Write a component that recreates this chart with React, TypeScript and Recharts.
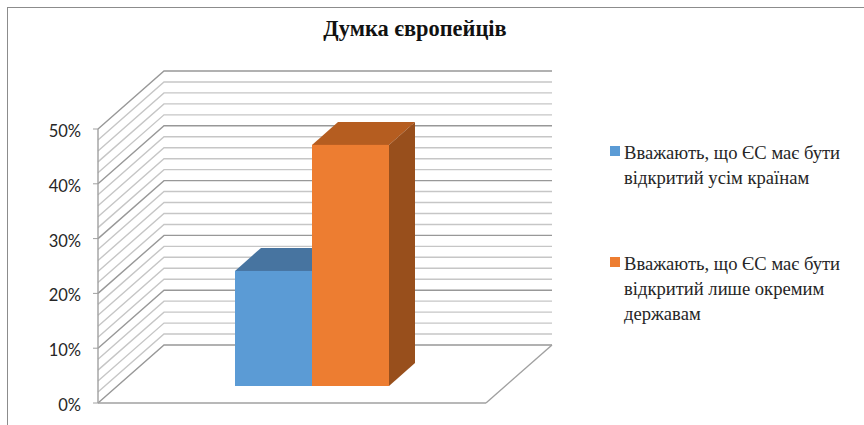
import React from 'react';
import { BarChart, Bar, XAxis, YAxis, CartesianGrid, Legend } from 'recharts';

const categories = ['Думка'];
const openToAll = [21];
const openToSome = [44];
const yTicks = [0, 10, 20, 30, 40, 50];
const gridValues = [0, 2, 4, 6, 8, 10, 12, 14, 16, 18, 20, 22, 24, 26, 28, 30, 32, 34, 36, 38, 40, 42, 44, 46, 48, 50];
const seriesNames = [
  'Вважають, що ЄС має бути відкритий усім країнам',
  'Вважають, що ЄС має бути відкритий лише окремим державам',
];
const title = 'Думка європейців';

const data = categories.map((name, i) => ({ name, openToAll: openToAll[i], openToSome: openToSome[i] }));

// depth of the 3d box
const DX = 66;
const DY = -58;
// bars stand in the middle of the floor
const BAR_DX = 26;
const BAR_DY = -23;
const BAR_OFF_X = 20;
const BAR_OFF_Y = -17;

const serif = 'Liberation Serif, Times New Roman, serif';

const GridLine = (props: any) => {
  const { x1, x2, y1, index } = props;
  const major = index % 5 === 0;
  const color = major ? '#989898' : '#c6c6c6';
  return (
    <g>
      <polyline
        points={`${x1},${y1} ${x1 + DX},${y1 + DY} ${x2 + DX},${y1 + DY}`}
        fill="none"
        stroke={color}
        strokeWidth={1.4}
      />
      {index === 0 && <line x1={x2} y1={y1} x2={x2 + DX} y2={y1 + DY} stroke="#a0a0a0" strokeWidth={1.4} />}
    </g>
  );
};

const Bar3D = (props: any) => {
  const { x, y, width, height, fill, topFill, sideFill } = props;
  const l = x + BAR_OFF_X;
  const r = l + width;
  const t = y + BAR_OFF_Y;
  const b = t + height;
  return (
    <g>
      <polygon points={`${l},${t} ${l + BAR_DX},${t + BAR_DY} ${r + BAR_DX},${t + BAR_DY} ${r},${t}`} fill={topFill} />
      <polygon points={`${r},${t} ${r + BAR_DX},${t + BAR_DY} ${r + BAR_DX},${b + BAR_DY} ${r},${b}`} fill={sideFill} />
      <rect x={l} y={t} width={width} height={height} fill={fill} />
    </g>
  );
};

const LegendBox = ({ payload }: any) => (
  <div>
    {(payload || []).map((item: any, i: number) => (
      <div
        key={item.value}
        style={{
          position: 'absolute',
          left: 0,
          top: i === 0 ? 0 : 111,
          width: 240,
          paddingLeft: 14,
          boxSizing: 'border-box',
          fontFamily: serif,
          fontSize: 18.6,
          lineHeight: '25px',
          color: '#262626',
          textAlign: 'left',
        }}
      >
        <span style={{ position: 'absolute', left: 0, top: 6, width: 10, height: 10, background: item.color }} />
        {item.value}
      </div>
    ))}
  </div>
);

const PercentTick = (props: any) => {
  const { x, y, payload } = props;
  return (
    <text x={x} y={y} dy={8} textAnchor="end" fontFamily="Lato" fontSize={16.5} fill="#262626">
      {`${payload.value}%`}
    </text>
  );
};

export default function App() {
  return (
    <div style={{ position: 'relative', width: 864, height: 425, background: '#fff', overflow: 'hidden' }}>
      <style>{'body{margin:0}'}</style>
      <div style={{ position: 'absolute', left: 7, top: 7, width: 857, height: 418, borderLeft: '1px solid #8c8c8c', borderTop: '1px solid #8c8c8c' }} />
      <div
        style={{
          position: 'absolute',
          left: 0,
          width: 830,
          top: 16,
          textAlign: 'center',
          fontFamily: serif,
          fontWeight: 'bold',
          fontSize: 22.4,
          color: '#111',
        }}
      >
        {title}
      </div>
      <BarChart
        width={864}
        height={425}
        data={data}
        margin={{ top: 129, right: 378, bottom: 20, left: 0 }}
        barSize={77}
        barGap={0}
        style={{ position: 'absolute', left: 0, top: 0 }}
      >
        <CartesianGrid vertical={false} horizontal={GridLine as any} horizontalValues={gridValues} />
        <XAxis dataKey="name" tick={false} tickLine={false} height={1} axisLine={{ stroke: '#a0a0a0', strokeWidth: 1.5 }} />
        <YAxis
          domain={[0, 50]}
          ticks={yTicks}
          interval={0}
          width={98}
          tickSize={5}
          tickMargin={12}
          axisLine={{ stroke: '#a0a0a0', strokeWidth: 1.4 }}
          tickLine={{ stroke: '#a0a0a0' }}
          tick={<PercentTick />}
        />
        <Legend
          content={<LegendBox />}
          itemSorter={null as any}
          wrapperStyle={{ position: 'absolute', left: 610, top: 140, width: 240, height: 1, bottom: 'auto' }}
        />
        <Bar
          dataKey="openToAll"
          name={seriesNames[0]}
          fill="#5b9bd5"
          isAnimationActive={false}
          shape={<Bar3D topFill="#4774a0" sideFill="#3d6a94" />}
        />
        <Bar
          dataKey="openToSome"
          name={seriesNames[1]}
          fill="#ed7d31"
          isAnimationActive={false}
          shape={<Bar3D topFill="#b55d20" sideFill="#984f1c" />}
        />
      </BarChart>
    </div>
  );
}
